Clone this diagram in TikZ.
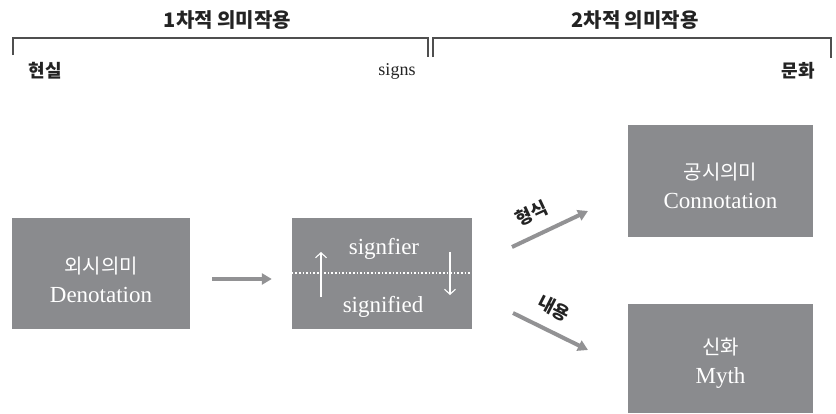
\documentclass[tikz,border=0pt]{standalone}
\usepackage{fontspec}
\setmainfont{Liberation Serif}
\newfontfamily\kr{Noto Sans CJK KR}
\usetikzlibrary{arrows.meta}
\definecolor{boxgray}{RGB}{138,139,142}
\definecolor{arrgray}{RGB}{146,146,148}
\definecolor{inkc}{RGB}{35,35,35}
\begin{document}
\begin{tikzpicture}[x=1pt,y=-1pt,
  gbox/.style={fill=boxgray, inner sep=0pt},
  btext/.style={text=white, align=center, inner sep=0pt,
    font=\fontsize{23}{29}\selectfont},
  intext/.style={text=white, inner sep=0pt, font=\fontsize{23}{26}\selectfont},
  hdr/.style={text=inkc, inner sep=0pt, font=\kr\bfseries\fontsize{20}{24}\selectfont},
  kl/.style={text=inkc, inner sep=0pt, font=\kr\bfseries\fontsize{18}{22}\selectfont},
  sub/.style={text=inkc, inner sep=0pt, font=\fontsize{18}{22}\selectfont},
  bigarrow/.style={draw=arrgray, line width=4pt, -{Triangle[length=10pt,width=11pt]}},
  thinarrow/.style={draw=white, line width=1.1pt, -{Straight Barb[length=5pt,width=11pt]}},
  brk/.style={draw=inkc!80, line width=1.1pt}]
\useasboundingbox (0,0) rectangle (836,413);
\fill[white] (0,0) rectangle (836,413);

% header
\node[hdr] (h1) at (227.5,20) {1차적 의미작용};
\node[hdr] (h2) at (635,20) {2차적 의미작용};
\draw[brk] (13,55) -- (13,38) -- (428,38) -- (428,57);
\draw[brk] (433,57) -- (433,38) -- (831,38) -- (831,58);
\node[kl] (real) at (45,71) {현실};
\node[sub] (signs) at (397,71) {signs};
\node[kl] (cult) at (798,71) {문화};

% boxes
\node[gbox, minimum width=178pt, minimum height=111pt] (den) at (101,273.5) {};
\node[gbox, minimum width=180pt, minimum height=111pt] (sig) at (382,273.5) {};
\node[gbox, minimum width=185pt, minimum height=112pt] (con) at (720.5,181) {};
\node[gbox, minimum width=185pt, minimum height=109pt] (myth) at (720.5,358.5) {};

\node[btext] (den-t) at ([yshift=-6pt]den.center)
  {{\kr\fontsize{20}{29}\selectfont 외시의미}\\Denotation};
\node[btext] (con-t) at ([yshift=-5pt]con.center)
  {{\kr\fontsize{20}{27}\selectfont 공시의미}\\Connotation};
\node[btext] (myth-t) at ([yshift=-5pt]myth.center)
  {{\kr\fontsize{20}{29}\selectfont 신화}\\Myth};

% inside signifier box
\node[intext] (sf) at (384,249) {signfier};
\node[intext] (sd) at (383,307) {signified};
\draw[white, line width=1.6pt, dotted] (sig.west |- 0,273) -- (sig.east |- 0,273);
\coordinate (ua) at (321,297);
\coordinate (ub) at (321,252);
\coordinate (da) at (450,252);
\coordinate (db) at (450,295);
\draw[thinarrow] (ua) -- (ub);
\draw[thinarrow] (da) -- (db);

% arrows
\draw[bigarrow, shorten <=22pt, shorten >=20pt] ([yshift=-5.5pt]den.east) -- ([yshift=-5.5pt]sig.west);
\coordinate (f1) at (512,247);
\coordinate (f2) at (588,211);
\coordinate (n1) at (513,313);
\coordinate (n2) at (588,350);
\draw[bigarrow] (f1) -- (f2);
\draw[bigarrow] (n1) -- (n2);
\node[kl, rotate=25] (form) at (532,213) {형식};
\node[kl, rotate=-27] (cont) at (554,308) {내용};
\end{tikzpicture}
\end{document}
